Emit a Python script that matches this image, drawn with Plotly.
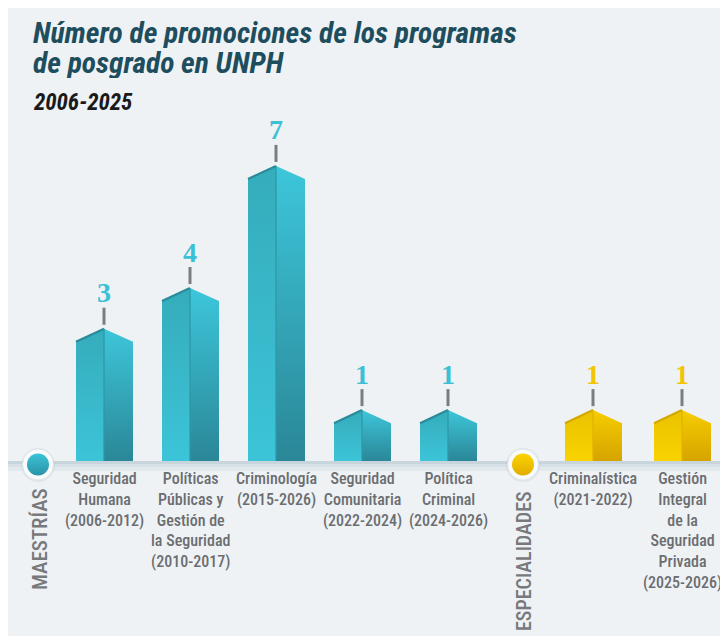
import plotly.graph_objects as go

# ---------------- data ----------------
maestrias = [
    "Seguridad<br>Humana<br>(2006-2012)",
    "Políticas<br>Públicas y<br>Gestión de<br>la Seguridad<br>(2010-2017)",
    "Criminología<br>(2015-2026)",
    "Seguridad<br>Comunitaria<br>(2022-2024)",
    "Política<br>Criminal<br>(2024-2026)",
]
maestrias_vals = [3, 4, 7, 1, 1]
especialidades = [
    "Criminalística<br>(2021-2022)",
    "Gestión<br>Integral<br>de la<br>Seguridad<br>Privada<br>(2025-2026)",
]
especialidades_vals = [1, 1]
group_labels = ["MAESTRÍAS", "ESPECIALIDADES"]
title_line1 = "Número de promociones de los programas"
title_line2 = "de posgrado en UNPH"
subtitle = "2006-2025"

# ---------------- layout geometry ----------------
W, H = 728, 636          # window size
PAGE_OFF = 8             # default body margin of the html page
BASE_PX = 461.0          # pixel row of bar base
PPU = 40.7               # pixels per unit
APEX_OFF = 0.25          # roof apex above value
SHOULDER_OFF = -0.07     # roof shoulder relative to value


def yp(px):
    return (BASE_PX - px) / PPU


COND = "Roboto Condensed, Liberation Sans Narrow, Roboto, sans-serif"
SERIF = "Liberation Serif, DejaVu Serif, serif"

teal = dict(left=("#3cc4d8", "#35acbb"), right=("#2a8797", "#3dc6da"),
            edge="#2a8a98", ridge="#2f98a8", label="#3cc0d5", dot=("#3bc3d7", "#2a93a6"))
gold = dict(left=("#f9d300", "#eac200"), right=("#d6a400", "#f6cd00"),
            edge="#d5a800", ridge="#e0b300", label="#f2c500", dot=("#fbd400", "#e2ac00"))

groups = [
    (maestrias, maestrias_vals, [104 + 86 * i for i in range(len(maestrias))], teal, 38),
    (especialidades, especialidades_vals, [593 + 89 * i for i in range(len(especialidades))], gold, 523),
]

fig = go.Figure()
shapes = []
annotations = []

# panel background
shapes.append(dict(type="rect", xref="x", yref="y", x0=5, x1=W + 2, y0=yp(4), y1=yp(H + 2),
                   fillcolor="#eef2f5", line=dict(width=0), layer="below"))
# baseline band
for (p0, p1, c) in [(461, 464, "#c8d5dc"), (464, 467, "#d6e0e6"), (467, 471, "#e2e9ed")]:
    shapes.append(dict(type="rect", xref="x", yref="y", x0=5, x1=W + 2, y0=yp(p0), y1=yp(p1),
                       fillcolor=c, line=dict(width=0), layer="below"))

for names, vals, xs, st, dotx in groups:
    for name, v, cx in zip(names, vals, xs):
        L, R0, R = cx - 28, cx, cx + 29
        ap = v + APEX_OFF
        sh = v + SHOULDER_OFF
        # left face
        fig.add_trace(go.Scatter(
            x=[L, L, R0, R0, L], y=[0, sh, ap, 0, 0], mode="lines", fill="toself",
            line=dict(width=0), hoverinfo="skip", showlegend=False,
            fillgradient=dict(type="vertical", start=0, stop=ap,
                              colorscale=[[0, st["left"][0]], [1, st["left"][1]]])))
        # right face
        fig.add_trace(go.Scatter(
            x=[R0, R0, R, R, R0], y=[0, ap, sh, 0, 0], mode="lines", fill="toself",
            line=dict(width=0), hoverinfo="skip", showlegend=False,
            fillgradient=dict(type="vertical", start=0, stop=ap,
                              colorscale=[[0, st["right"][0]], [1, st["right"][1]]])))
        # roof edge + ridge
        fig.add_trace(go.Scatter(x=[L, R0], y=[sh, ap], mode="lines",
                                 line=dict(color=st["edge"], width=2.2),
                                 hoverinfo="skip", showlegend=False))
        fig.add_trace(go.Scatter(x=[R0, R0], y=[0, ap], mode="lines",
                                 line=dict(color=st["ridge"], width=1.3),
                                 hoverinfo="skip", showlegend=False))
        # tick line above
        shapes.append(dict(type="line", xref="x", yref="y", x0=R0, x1=R0,
                           y0=ap + 4 / PPU, y1=ap + 21 / PPU,
                           line=dict(color="#7b7d80", width=3)))
        # value label
        annotations.append(dict(x=R0, y=ap + 36 / PPU, xref="x", yref="y",
                                text=f"<b>{v}</b>", showarrow=False,
                                font=dict(family=SERIF, size=28, color=st["label"]),
                                xanchor="center", yanchor="middle"))
        # category label
        annotations.append(dict(x=cx, y=yp(467), xref="x", yref="y", text=name,
                                showarrow=False, align="center",
                                font=dict(family=COND, size=16, color="#6b6d70", weight=500),
                                xanchor="center", yanchor="top"))
    # group dot
    fig.add_trace(go.Scatter(x=[dotx], y=[yp(465)], mode="markers", hoverinfo="skip",
                             showlegend=False,
                             marker=dict(size=34, color="rgba(150,165,175,0.18)", line=dict(width=0))))
    fig.add_trace(go.Scatter(x=[dotx], y=[yp(464.5)], mode="markers", hoverinfo="skip",
                             showlegend=False,
                             marker=dict(size=31, color="#f8fafb", line=dict(color="#e1e7eb", width=1))))
    fig.add_trace(go.Scatter(x=[dotx], y=[yp(464.5)], mode="markers", hoverinfo="skip",
                             showlegend=False,
                             marker=dict(size=22, color=st["dot"][0], line=dict(width=0),
                                         gradient=dict(type="vertical", color=st["dot"][1]))))

# vertical group labels
annotations.append(dict(x=40, y=yp(539), xref="x", yref="y", text=group_labels[0],
                        textangle=-90, showarrow=False,
                        font=dict(family=COND, size=21, color="#77797c", weight=500)))
annotations.append(dict(x=524, y=yp(561), xref="x", yref="y", text=group_labels[1],
                        textangle=-90, showarrow=False,
                        font=dict(family=COND, size=20, color="#77797c", weight=500)))

# titles
tfont = dict(family=COND, size=29.5, color="#1e4e5e", weight="bold", style="italic")
annotations.append(dict(x=31, y=yp(33), xref="x", yref="y", text=title_line1,
                        showarrow=False, xanchor="left", yanchor="middle", height=30,
                        valign="middle", font=tfont))
annotations.append(dict(x=31, y=yp(63), xref="x", yref="y", text=title_line2,
                        showarrow=False, xanchor="left", yanchor="middle", height=30,
                        valign="middle", font=tfont))
annotations.append(dict(x=31, y=yp(102), xref="x", yref="y", text=subtitle,
                        showarrow=False, xanchor="left", yanchor="middle",
                        font=dict(family=COND, size=23, color="#1a1a1a",
                                  weight="bold", style="italic")))

fig.update_layout(
    width=W - PAGE_OFF, height=H - PAGE_OFF,
    margin=dict(l=0, r=0, t=0, b=0),
    paper_bgcolor="#eef2f5", plot_bgcolor="#eef2f5",
    xaxis=dict(range=[PAGE_OFF, W], visible=False, fixedrange=True),
    yaxis=dict(range=[yp(H), yp(PAGE_OFF)], visible=False, fixedrange=True),
    shapes=shapes, annotations=annotations, showlegend=False,
)

fig.write_html("out.html")
